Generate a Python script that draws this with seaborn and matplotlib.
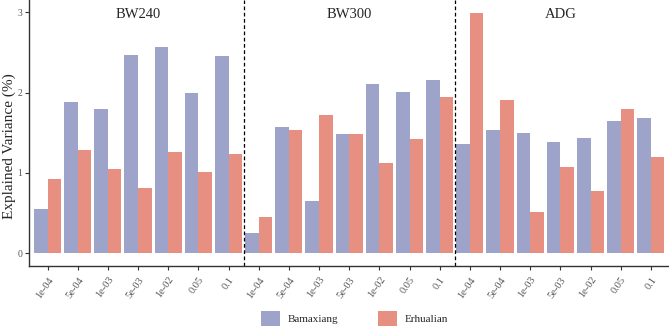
import pandas as pd
import matplotlib
matplotlib.use("Agg")
import matplotlib.pyplot as plt
import seaborn as sns

# traits (panels), thresholds and breeds
traits = ["BW240", "BW300", "ADG"]
thresholds = ["1e-04", "5e-04", "1e-03", "5e-03", "1e-02", "0.05", "0.1"]
breeds = ["Bamaxiang", "Erhualian"]

# explained variance (%), one list per trait and breed
bw240_bamaxiang = [0.55, 1.88, 1.79, 2.47, 2.56, 1.99, 2.45]
bw240_erhualian = [0.93, 1.29, 1.05, 0.81, 1.26, 1.01, 1.23]
bw300_bamaxiang = [0.25, 1.57, 0.65, 1.49, 2.10, 2.01, 2.16]
bw300_erhualian = [0.45, 1.53, 1.72, 1.49, 1.13, 1.42, 1.95]
adg_bamaxiang = [1.36, 1.54, 1.50, 1.39, 1.44, 1.65, 1.68]
adg_erhualian = [2.99, 1.91, 0.52, 1.07, 0.78, 1.79, 1.20]

values = {
    ("BW240", "Bamaxiang"): bw240_bamaxiang,
    ("BW240", "Erhualian"): bw240_erhualian,
    ("BW300", "Bamaxiang"): bw300_bamaxiang,
    ("BW300", "Erhualian"): bw300_erhualian,
    ("ADG", "Bamaxiang"): adg_bamaxiang,
    ("ADG", "Erhualian"): adg_erhualian,
}

rows = []
for t in traits:
    for b in breeds:
        for thr, v in zip(thresholds, values[(t, b)]):
            rows.append({"key": t + "|" + thr, "trait": t, "threshold": thr,
                         "breed": b, "value": v})
df = pd.DataFrame(rows)
order = [t + "|" + thr for t in traits for thr in thresholds]

sns.set_style("ticks")
plt.rcParams["font.family"] = ["Liberation Serif", "DejaVu Serif"]

fig = plt.figure(figsize=(6.69, 3.29), dpi=100)
ax = fig.add_axes([0.044, 0.193, 0.956, 0.807])

palette = {"Bamaxiang": "#9DA3C9", "Erhualian": "#E78F80"}
sns.barplot(data=df, x="key", y="value", hue="breed", order=order,
            hue_order=breeds, palette=palette, width=0.9, saturation=1,
            linewidth=0, errorbar=None, ax=ax, legend=True)

n = len(order)
ax.set_xlim(-0.6, n - 0.4)
ax.set_ylim(-0.15, 3.15)
ax.set_yticks([0, 1, 2, 3])
ax.set_yticklabels(["0", "1", "2", "3"], fontsize=7, color="#555555")
ax.set_xticks(range(n))
ax.set_xticklabels([k.split("|")[1] for k in order], rotation=55,
                   ha="right", rotation_mode="anchor", fontsize=7.5,
                   color="#555555")
ax.tick_params(axis="both", length=3, width=0.8, color="#333333")
ax.tick_params(axis="y", pad=2)
ax.tick_params(axis="x", pad=4)
ax.set_xlabel("")
ax.set_ylabel("Explained Variance (%)", fontsize=11)
ax.yaxis.set_label_coords(-0.021, 0.45)

for side in ["top", "right"]:
    ax.spines[side].set_visible(False)
for side in ["left", "bottom"]:
    ax.spines[side].set_color("#333333")
    ax.spines[side].set_linewidth(1.0)

# dashed separators and panel titles
for i in range(1, len(traits)):
    ax.axvline(i * len(thresholds) - 0.5, color="black", linestyle="--",
               linewidth=0.9, dashes=(3, 2))
for i, t in enumerate(traits):
    ax.text(i * len(thresholds) + 3, 2.97, t, ha="center", va="center",
            fontsize=10.5)

handles, labels = ax.get_legend_handles_labels()
ax.get_legend().remove()
fig.legend(handles, labels, loc="lower center", bbox_to_anchor=(0.53, -0.02),
           ncol=2, frameon=False, fontsize=8, handlelength=1.7,
           handleheight=1.7, handletextpad=0.7, columnspacing=3.6)

fig.savefig("out.png", dpi=100)
